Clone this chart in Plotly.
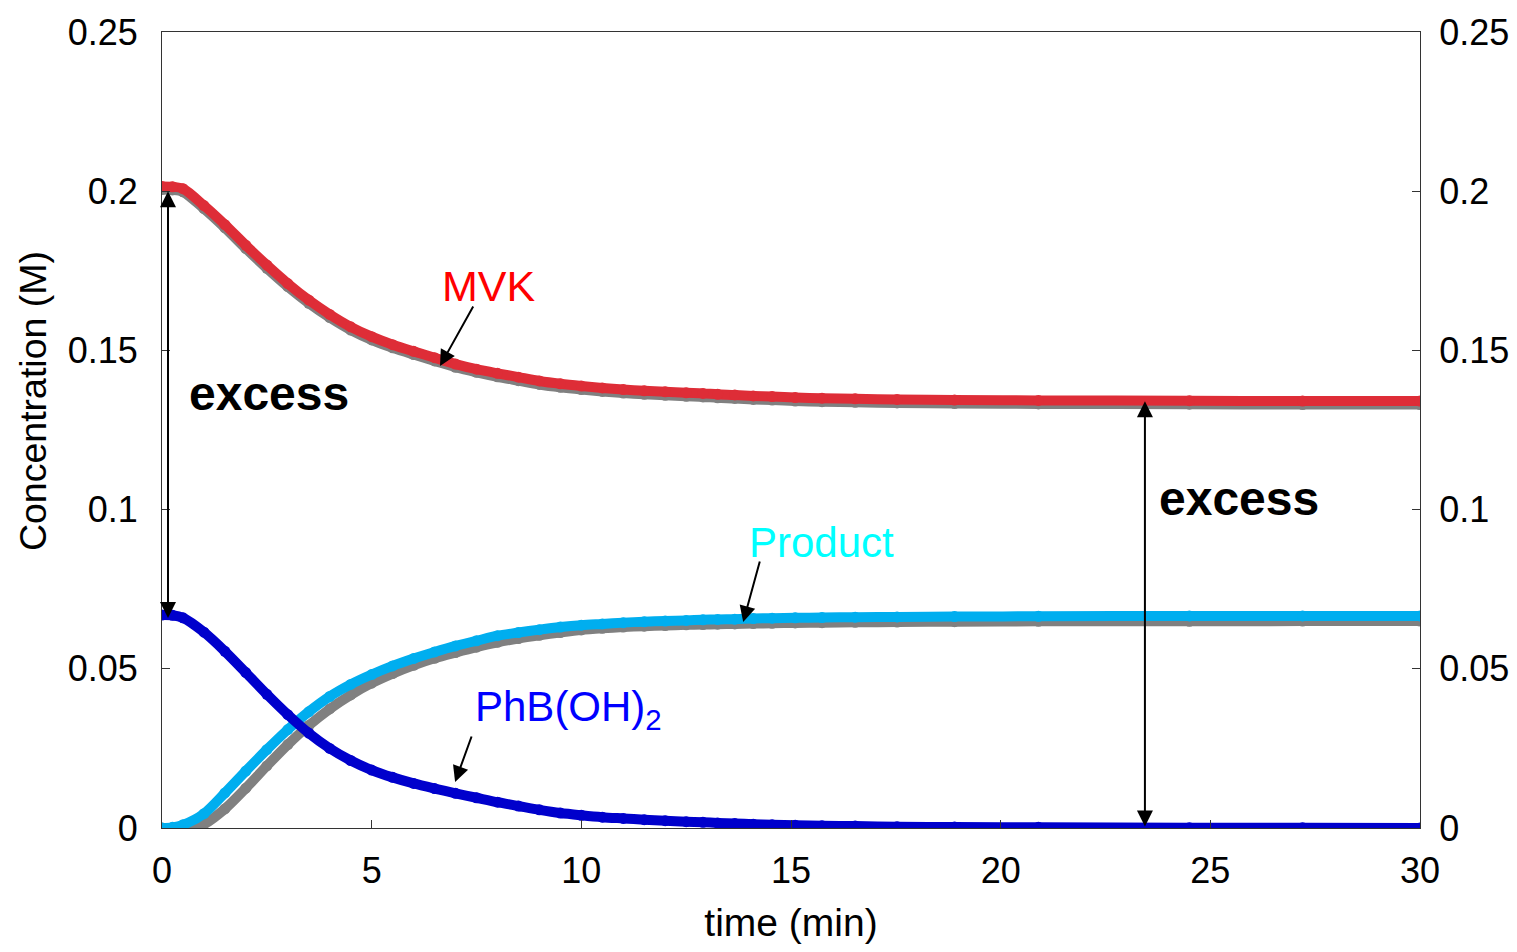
import plotly.graph_objects as go

# ---- data ----
time_min = [0, 0.25, 0.5, 1, 1.5, 2, 2.5, 3, 3.5, 4, 4.5, 5, 5.5, 6, 6.5, 7, 7.5, 8, 8.5, 9,
            9.5, 10, 10.5, 11, 11.5, 12, 12.5, 12.9, 13.25, 13.66, 14.1, 14.55, 15.1, 15.74,
            16.53, 17.53, 18.9, 20.9, 24.5, 27.2, 30]

mvk = [0.2015, 0.2014, 0.2008, 0.1955, 0.1895, 0.1830, 0.1768, 0.1710, 0.1658, 0.1613, 0.1574,
       0.1543, 0.1518, 0.1497, 0.1477, 0.1457, 0.1441, 0.1428, 0.1416, 0.1404, 0.1395, 0.1388,
       0.1382, 0.1377, 0.1373, 0.1370, 0.1367, 0.1365, 0.1362, 0.1360, 0.1357, 0.1355, 0.1352,
       0.1350, 0.1348, 0.1346, 0.1344, 0.1343, 0.1342, 0.1341, 0.1341]

mvk_fit = [0.2005, 0.2004, 0.1998, 0.1945, 0.1885, 0.1820, 0.1758, 0.1700, 0.1648, 0.1603, 0.1564,
           0.1533, 0.1508, 0.1487, 0.1467, 0.1447, 0.1431, 0.1417, 0.1405, 0.1393, 0.1384, 0.1377,
           0.1371, 0.1366, 0.1362, 0.1359, 0.1356, 0.1354, 0.1351, 0.1349, 0.1346, 0.1344, 0.1341,
           0.1339, 0.1337, 0.1335, 0.1333, 0.1332, 0.1331, 0.1330, 0.1330]

product = [0.0, 0.0002, 0.0010, 0.0045, 0.0110, 0.0179, 0.0246, 0.0309, 0.0365, 0.0413, 0.0451,
           0.0482, 0.0509, 0.0532, 0.0553, 0.0572, 0.0588, 0.0604, 0.0614, 0.0623, 0.0631, 0.0637,
           0.0641, 0.0645, 0.0648, 0.0650, 0.0652, 0.0654, 0.0655, 0.0656, 0.0658, 0.0659, 0.0660,
           0.0661, 0.0662, 0.0663, 0.0664, 0.0665, 0.0666, 0.0666, 0.0666]

product_fit = [0.0, 0.0, 0.0, 0.0012, 0.0060, 0.0125, 0.0195, 0.0262, 0.0322, 0.0374, 0.0418,
               0.0455, 0.0485, 0.0511, 0.0533, 0.0551, 0.0568, 0.0583, 0.0595, 0.0605, 0.0614,
               0.0622, 0.0627, 0.0631, 0.0634, 0.0636, 0.0638, 0.0639, 0.0640, 0.0641, 0.0642,
               0.0643, 0.0644, 0.0645, 0.0646, 0.0647, 0.0648, 0.0649, 0.0649, 0.0650, 0.0650]

phb = [0.0669, 0.0668, 0.0660, 0.0615, 0.0555, 0.0488, 0.0420, 0.0356, 0.0298, 0.0250, 0.0212,
       0.0182, 0.0159, 0.0140, 0.0124, 0.0109, 0.0095, 0.0081, 0.0069, 0.0057, 0.0047, 0.0040,
       0.0034, 0.0030, 0.0026, 0.0023, 0.0020, 0.0018, 0.0016, 0.0014, 0.0012, 0.0010, 0.0009,
       0.0007, 0.0006, 0.0004, 0.0003, 0.0002, 0.0001, 0.0001, 0.0000]

x_ticks = [0, 5, 10, 15, 20, 25, 30]
y_ticks = [0, 0.05, 0.1, 0.15, 0.2, 0.25]
y_tick_text = ["0", "0.05", "0.1", "0.15", "0.2", "0.25"]

FONT = "Arial, 'Liberation Sans', sans-serif"
GREY = "#808080"
LW = 10
MS = 11

fig = go.Figure()


def add_series(y, color, name):
    fig.add_trace(go.Scatter(
        x=time_min, y=y, mode="lines+markers", name=name,
        line=dict(color=color, width=LW, shape="spline", smoothing=0.8),
        marker=dict(color=color, size=MS),
        showlegend=False, hoverinfo="x+y"))


add_series(mvk_fit, GREY, "MVK fit")
add_series(product_fit, GREY, "Product fit")
add_series(mvk, "#DE2D37", "MVK")
add_series(product, "#00AEEF", "Product")
add_series(phb, "#0000CC", "PhB(OH)2")

# right-hand axis mirror (invisible trace)
fig.add_trace(go.Scatter(x=[0], y=[0], yaxis="y2", mode="markers",
                         marker=dict(opacity=0), showlegend=False, hoverinfo="skip"))

axis_common = dict(showgrid=False, zeroline=False, linecolor="#333333", linewidth=1,
                   ticks="inside", ticklen=8, tickcolor="#333333", automargin=False,
                   tickfont=dict(family=FONT, size=36, color="black"))

# the page body adds an 8px margin on every side; the figure is sized so the page is 1517x952
fig.update_layout(
    width=1501, height=936,
    margin=dict(l=154, r=89, t=24, b=116),
    paper_bgcolor="white", plot_bgcolor="white",
    font=dict(family=FONT, color="black"),
    xaxis=dict(range=[0, 30], tickvals=x_ticks, showline=True, mirror=True,
               ticklabelstandoff=11,
               title=dict(text="time (min)", font=dict(family=FONT, size=39), standoff=27),
               **axis_common),
    yaxis=dict(range=[0, 0.25], tickvals=y_ticks, ticktext=y_tick_text, showline=True,
               ticklabelstandoff=16, **axis_common),
    yaxis2=dict(range=[0, 0.25], tickvals=y_ticks, ticktext=y_tick_text, showline=True,
                overlaying="y", side="right", ticklabelstandoff=11, **axis_common),
)

ann = []
# y-axis title (sits slightly above the plot's centre in the reference)
ann.append(dict(x=-0.1025, y=0.5364, xref="paper", yref="paper", text="Concentration (M)",
                textangle=-90, showarrow=False, xanchor="center", yanchor="middle",
                font=dict(family=FONT, size=37.5, color="black")))
# text labels
ann.append(dict(x=7.80, y=0.1703, text="MVK", showarrow=False,
                font=dict(family=FONT, size=43, color="#FF0000")))
ann.append(dict(x=15.72, y=0.0898, text="Product", showarrow=False,
                font=dict(family=FONT, size=42, color="#00FFFF")))
ann.append(dict(x=7.42, y=0.0371, text="PhB(OH)<sub>2</sub>", showarrow=False, xanchor="left",
                font=dict(family=FONT, size=42, color="#0000FF")))
ann.append(dict(x=0.60, y=0.1366, text="<b>excess</b>", showarrow=False, xanchor="left",
                font=dict(family=FONT, size=48, color="black")))
ann.append(dict(x=23.73, y=0.1036, text="<b>excess</b>", showarrow=False, xanchor="left",
                font=dict(family=FONT, size=48, color="black")))

arrow_style = dict(showarrow=True, arrowhead=2, arrowsize=1.6, arrowwidth=2,
                   arrowcolor="black", text="")
# pointer arrows
ann.append(dict(x=6.63, y=0.1451, ax=34, ay=-61, **arrow_style))
ann.append(dict(x=13.86, y=0.0647, ax=17, ay=-62, **arrow_style))
ann.append(dict(x=6.99, y=0.01445, ax=17, ay=-47, **arrow_style))
# double-headed "excess" arrows
ann.append(dict(x=0.143, y=0.2, ax=0.143, ay=0.0655, axref="x", ayref="y",
                arrowside="end+start", startarrowhead=2, startarrowsize=1.6, **arrow_style))
ann.append(dict(x=23.44, y=0.134, ax=23.44, ay=0.0, axref="x", ayref="y",
                arrowside="end+start", startarrowhead=2, startarrowsize=1.6, **arrow_style))

fig.update_layout(annotations=ann)

fig.write_html("out.html")
